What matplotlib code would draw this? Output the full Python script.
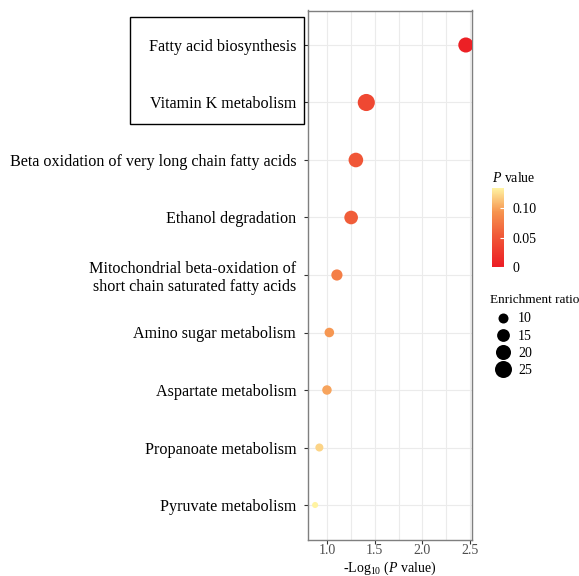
import numpy as np
import matplotlib
matplotlib.use("Agg")
import matplotlib.pyplot as plt
from matplotlib.colors import LinearSegmentedColormap
from matplotlib.patches import Rectangle
from matplotlib.lines import Line2D

plt.rcParams['font.family'] = ['Liberation Serif', 'DejaVu Serif']
plt.rcParams['mathtext.fontset'] = 'custom'
plt.rcParams['mathtext.rm'] = 'Liberation Serif'
plt.rcParams['mathtext.it'] = 'Liberation Serif:italic'

# pathways, top to bottom
pathways = [
    "Fatty acid biosynthesis",
    "Vitamin K metabolism",
    "Beta oxidation of very long chain fatty acids",
    "Ethanol degradation",
    "Mitochondrial beta-oxidation of\nshort chain saturated fatty acids",
    "Amino sugar metabolism",
    "Aspartate metabolism",
    "Propanoate metabolism",
    "Pyruvate metabolism",
]
neg_log_p = [2.46, 1.41, 1.30, 1.25, 1.10, 1.02, 0.995, 0.915, 0.87]
enrichment = [20.1, 25.3, 19.0, 16.8, 12.0, 9.3, 9.2, 7.2, 5.0]
size_breaks = [10, 15, 20, 25]
p_ticks = [0, 0.05, 0.10]
p_tick_labels = ["0", "0.05", "0.10"]
x_ticks = [1.0, 1.5, 2.0, 2.5]

pvals = 10 ** (-np.array(neg_log_p))

# red -> orange -> pale yellow
cmap = LinearSegmentedColormap.from_list(
    "pv", [(0, "#EC1C24"), (0.4, "#F05A38"), (0.7, "#F6944F"), (1, "#FFF3A2")])


def size_pts(v):
    # area grows linearly with ratio (diameter in px -> points^2)
    d_px = np.sqrt(np.maximum(-26 + 12.6 * np.asarray(v, dtype=float), 1))
    return (d_px * 0.72) ** 2


fig = plt.figure(figsize=(5.79, 5.76), dpi=100)
ax = fig.add_axes([308 / 579, 1 - 539.5 / 576, 164 / 579, 529 / 576])

n = len(pathways)
ypos = np.arange(n)[::-1]
sc = ax.scatter(neg_log_p, ypos, s=size_pts(enrichment), c=pvals, cmap=cmap,
                vmin=0, vmax=0.135, edgecolors='none', zorder=3)

ax.set_ylim(-0.6, n - 0.4)
ax.set_xlim(0.795, 2.525)
ax.set_yticks(ypos)
ax.set_yticklabels(pathways, fontsize=11.6, ha='right', multialignment='right')
ax.set_xticks(x_ticks)
ax.set_xticklabels(["1.0", "1.5", "2.0", "2.5"], fontsize=10, color='#4d4d4d')
ax.set_xticks([1.25, 1.75, 2.25], minor=True)
ax.tick_params(axis='x', which='minor', length=0)
ax.tick_params(axis='x', which='major', length=3, width=0.8, color='#333333', pad=0)
ax.tick_params(axis='y', which='major', length=3, width=0.8, color='#333333', pad=5.5)
ax.grid(True, which='both', color='#EBEBEB', lw=0.8, zorder=0)
ax.set_axisbelow(True)
for sp in ax.spines.values():
    sp.set_color('#7f7f7f')
    sp.set_linewidth(1.0)
ax.set_xlabel(r'-Log$_{10}$ ($\mathit{P}$ value)', fontsize=10, labelpad=2)

# box around the top two labels
fig.patches.append(Rectangle((130 / 579, 1 - 124 / 576), 174 / 579, 107.3 / 576,
                             transform=fig.transFigure, fill=False,
                             edgecolor='black', lw=1.0))

# colour bar
cax = fig.add_axes([492 / 579, 1 - 267 / 576, 12 / 579, 79 / 576])
cb = fig.colorbar(sc, cax=cax, ticks=p_ticks)
cb.ax.set_yticklabels(p_tick_labels, fontsize=10)
cb.outline.set_visible(False)
cb.ax.tick_params(direction='in', color='white', length=3, width=0.8, pad=6)
fig.text(492 / 579, 1 - 178 / 576, r'$\mathit{P}$ value', fontsize=10,
         va='center', ha='left')

# size legend
fig.text(490 / 579, 1 - 300 / 576, "Enrichment ratio", fontsize=9.5,
         va='center', ha='left')
handles = [Line2D([], [], ls='', marker='o', color='black', markeredgewidth=0,
                  markersize=np.sqrt(size_pts(b))) for b in size_breaks]
leg = fig.legend(handles, [str(b) for b in size_breaks],
                 loc='upper left', bbox_to_anchor=(494.4 / 579, 1 - 312.5 / 576),
                 frameon=False, fontsize=10, borderaxespad=0,
                 handletextpad=0.5, labelspacing=0.3, borderpad=0,
                 handlelength=1.2)

fig.savefig("out.png", dpi=100)
